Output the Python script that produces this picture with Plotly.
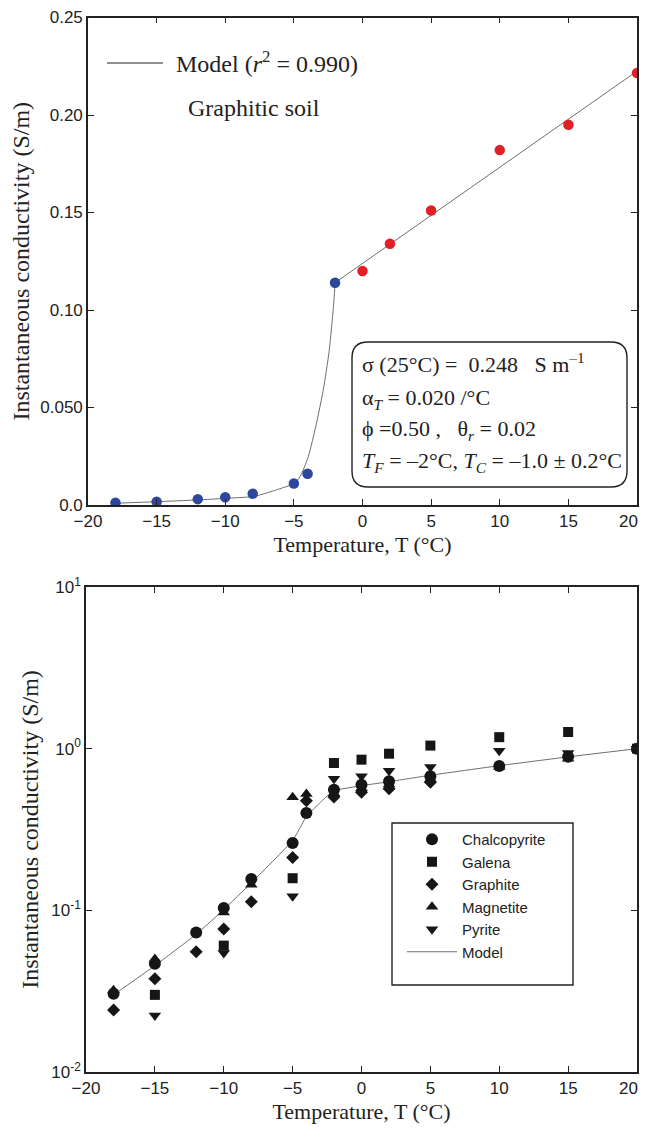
import plotly.graph_objects as go

# ---------------- Top panel data (graphitic soil) ----------------
top_T_frozen = [-18, -15, -12, -10, -8, -5, -4, -2]
top_sigma_frozen = [0.0012, 0.0017, 0.0030, 0.0040, 0.0058, 0.0110, 0.0160, 0.1140]
top_T_thawed = [0, 2, 5, 10, 15, 20]
top_sigma_thawed = [0.120, 0.134, 0.151, 0.182, 0.195, 0.2215]
# model curve: freezing branch and linear thawed branch
top_model_T_frozen = [-18, -15, -12, -10, -8, -7.5, -6.3, -5, -4.55, -3.95, -3.35, -2.86, -2.42, -2.08, -2]
top_model_sigma_frozen = [0.0009, 0.0017, 0.0026, 0.0034, 0.0043, 0.0051, 0.0077, 0.0110, 0.0145,
                          0.0248, 0.0420, 0.0590, 0.0795, 0.1050, 0.1140]
top_model_T_thawed = [-2, 20]
top_model_sigma_thawed = [0.1140, 0.2225]
top_yticks = [0, 0.05, 0.10, 0.15, 0.20, 0.25]
top_yticktext = ["0.0", "0.050", "0.10", "0.15", "0.20", "0.25"]
x_ticks = [-20, -15, -10, -5, 0, 5, 10, 15, 20]
x_ticktext = ["\u221220", "\u221215", "\u221210", "\u22125", "0", "5", "10", "15", "20"]

# ---------------- Bottom panel data (minerals) ----------------
chalco_T = [-18, -15, -12, -10, -8, -5, -4, -2, 0, 2, 5, 10, 15, 20]
chalco_s = [0.0305, 0.0468, 0.073, 0.1035, 0.156, 0.261, 0.40, 0.558, 0.599, 0.628, 0.675, 0.780, 0.890, 1.0]
galena_T = [-15, -10, -5, -2, 0, 2, 5, 10, 15, 20]
galena_s = [0.030, 0.0605, 0.158, 0.815, 0.855, 0.931, 1.045, 1.178, 1.268, 1.0]
graphite_T = [-18, -15, -12, -10, -8, -5, -4, -2, 0, 2, 5]
graphite_s = [0.0242, 0.0377, 0.0555, 0.0767, 0.113, 0.212, 0.477, 0.502, 0.537, 0.566, 0.619]
magnetite_T = [-18, -15, -10, -8, -5, -4, -2, 0, 2, 5, 10, 15, 20]
magnetite_s = [0.032, 0.050, 0.097, 0.144, 0.50, 0.525, 0.53, 0.57, 0.60, 0.65, 0.77, 0.867, 1.0]
pyrite_T = [-15, -10, -5, -2, 0, 2, 5, 10, 15, 20]
pyrite_s = [0.0224, 0.0545, 0.122, 0.652, 0.675, 0.731, 0.770, 0.970, 0.940, 1.0]
bot_model_T = [-18, -15, -12, -10, -8, -5, -4, -3, -2, 0, 2, 5, 10, 15, 20]
bot_model_s = [0.030, 0.0455, 0.071, 0.101, 0.148, 0.270, 0.380, 0.465, 0.550, 0.590, 0.625,
               0.685, 0.785, 0.890, 1.0]
bot_yticks = [0.01, 0.1, 1, 10]
bot_yticktext = ["10<sup>-2</sup>", "10<sup>-1</sup>", "10<sup>0</sup>", "10<sup>1</sup>"]

BLUE = "#2d479c"
RED = "#e21f26"
INK = "#161616"
TXT = "#222"
SANS = "Liberation Sans, Arial, sans-serif"
SERIF = "Liberation Serif, Times New Roman, serif"

# the page body adds an 8 px margin; size the figure so the page is exactly 649x1133
OFF = 8
W, H = 649 - OFF, 1133 - 2 * OFF
ML, MR, MT = 86 - OFF, 12, 17 - OFF
MB = H - (1072 - OFF)
PW, PH = W - ML - MR, H - MT - MB

# the last tick label sits at the very page edge: draw it right-aligned as text instead
x_ticklabels = x_ticktext[:-1] + [""]


def px(x):  # page pixel (reference) -> paper x
    return (x - OFF - ML) / PW


def py(y):  # page pixel (reference) -> paper y
    return (H - MB - (y - OFF)) / PH


fig = go.Figure()

# top panel traces
fig.add_trace(go.Scatter(x=top_model_T_frozen, y=top_model_sigma_frozen, mode="lines",
                         line=dict(color="#6e6e6e", width=1, shape="spline", smoothing=0.6),
                         showlegend=False, xaxis="x", yaxis="y"))
fig.add_trace(go.Scatter(x=top_model_T_thawed, y=top_model_sigma_thawed, mode="lines",
                         line=dict(color="#6e6e6e", width=1),
                         showlegend=False, xaxis="x", yaxis="y"))
fig.add_trace(go.Scatter(x=top_T_frozen, y=top_sigma_frozen, mode="markers",
                         marker=dict(color=BLUE, size=10.5), showlegend=False, xaxis="x", yaxis="y"))
fig.add_trace(go.Scatter(x=top_T_thawed, y=top_sigma_thawed, mode="markers",
                         marker=dict(color=RED, size=10.5), showlegend=False, xaxis="x", yaxis="y"))

# bottom panel traces
fig.add_trace(go.Scatter(x=bot_model_T, y=bot_model_s, mode="lines", name="Model",
                         line=dict(color="#6e6e6e", width=1, shape="spline", smoothing=0.3),
                         legendrank=6, xaxis="x2", yaxis="y2"))
fig.add_trace(go.Scatter(x=magnetite_T, y=magnetite_s, mode="markers", name="Magnetite",
                         marker=dict(symbol="triangle-up", color=INK, size=11), legendrank=4,
                         xaxis="x2", yaxis="y2"))
fig.add_trace(go.Scatter(x=graphite_T, y=graphite_s, mode="markers", name="Graphite",
                         marker=dict(symbol="diamond", color=INK, size=10), legendrank=3,
                         xaxis="x2", yaxis="y2"))
fig.add_trace(go.Scatter(x=pyrite_T, y=pyrite_s, mode="markers", name="Pyrite",
                         marker=dict(symbol="triangle-down", color=INK, size=11), legendrank=5,
                         xaxis="x2", yaxis="y2"))
fig.add_trace(go.Scatter(x=chalco_T, y=chalco_s, mode="markers", name="Chalcopyrite",
                         marker=dict(symbol="circle", color=INK, size=12), legendrank=1,
                         xaxis="x2", yaxis="y2"))
fig.add_trace(go.Scatter(x=galena_T, y=galena_s, mode="markers", name="Galena",
                         marker=dict(symbol="square", color=INK, size=10), legendrank=2,
                         xaxis="x2", yaxis="y2"))

tick_font = dict(family=SANS, size=17, color=TXT)
axis_common = dict(showline=True, linecolor=TXT, linewidth=1.6, mirror="ticks",
                   ticks="inside", ticklen=6, tickwidth=1.3, tickcolor=TXT,
                   showgrid=False, zeroline=False, automargin=False, tickfont=tick_font)
xtitle_font = dict(family=SERIF, size=22, color=TXT)
ytitle_font = dict(family=SERIF, size=24, color=TXT)

top_dom_y = [py(505), py(17.5)]
bot_dom_y = [py(1072), py(587)]

fig.update_layout(
    width=W, height=H, margin=dict(l=ML, r=MR, t=MT, b=MB, autoexpand=False),
    paper_bgcolor="white", plot_bgcolor="white",
    xaxis=dict(axis_common, domain=[px(88), 1], range=[-20, 20], tickvals=x_ticks,
               ticktext=x_ticklabels, anchor="y",
               title=dict(text="Temperature, T (°C)", font=xtitle_font, standoff=6)),
    yaxis=dict(axis_common, domain=top_dom_y, range=[0, 0.25], tickvals=top_yticks,
               ticktext=top_yticktext, anchor="x",
               title=dict(text="Instantaneous conductivity (S/m)", font=ytitle_font, standoff=6)),
    xaxis2=dict(axis_common, domain=[0, 1], range=[-20, 20], tickvals=x_ticks,
                ticktext=x_ticklabels, anchor="y2",
                title=dict(text="Temperature, T (°C)", font=xtitle_font, standoff=6)),
    yaxis2=dict(axis_common, domain=bot_dom_y, type="log", range=[-2, 1], tickvals=bot_yticks,
                ticktext=bot_yticktext, anchor="x2",
                title=dict(text="Instantaneous conductivity (S/m)", font=ytitle_font, standoff=6)),
    legend=dict(x=px(402), y=py(823), xanchor="left", yanchor="top",
                bgcolor="rgba(0,0,0,0)", borderwidth=0, itemwidth=50,
                font=dict(family=SANS, size=15, color=TXT), traceorder="normal"),
    showlegend=True,
)

# last x tick label of each panel, kept inside the visible page
for label_y in (521, 1088):
    fig.add_annotation(xref="paper", yref="paper", x=px(640), y=py(label_y), xanchor="right",
                       yanchor="middle", showarrow=False, text=x_ticktext[-1], font=tick_font)

# legend box for bottom panel
fig.add_shape(type="rect", xref="paper", yref="paper",
              x0=px(392), x1=px(573), y0=py(985), y1=py(823),
              line=dict(color=TXT, width=1.4), fillcolor="rgba(0,0,0,0)")

# top panel key line and texts
fig.add_shape(type="line", xref="paper", yref="paper",
              x0=px(107), x1=px(163), y0=py(63), y1=py(63),
              line=dict(color=TXT, width=1))
fig.add_annotation(xref="paper", yref="paper", x=px(174), y=py(62), xanchor="left",
                   yanchor="middle", showarrow=False,
                   text="Model (<i>r</i><sup>2</sup> = 0.990)",
                   font=dict(family=SERIF, size=24, color=TXT))
fig.add_annotation(xref="paper", yref="paper", x=px(186), y=py(108), xanchor="left",
                   yanchor="middle", showarrow=False, text="Graphitic soil",
                   font=dict(family=SERIF, size=24, color=TXT))

# rounded parameter box
bx0, bx1, by0, by1 = px(352), px(627), py(487), py(342)
rx, ry = 16 / PW, 16 / PH
path = (f"M {bx0 + rx},{by1} L {bx1 - rx},{by1} Q {bx1},{by1} {bx1},{by1 - ry} "
        f"L {bx1},{by0 + ry} Q {bx1},{by0} {bx1 - rx},{by0} "
        f"L {bx0 + rx},{by0} Q {bx0},{by0} {bx0},{by0 + ry} "
        f"L {bx0},{by1 - ry} Q {bx0},{by1} {bx0 + rx},{by1} Z")
fig.add_shape(type="path", xref="paper", yref="paper", path=path,
              line=dict(color=TXT, width=1.4), fillcolor="white")

nb = "\u00a0"
box_lines = [
    (363, f"σ{nb}(25°C){nb}={nb}{nb}0.248{nb}{nb}{nb}S{nb}m<sup>–1</sup>"),
    (399, f"α<sub><i>T</i></sub>{nb}={nb}0.020{nb}/°C"),
    (430, f"ϕ{nb}=0.50{nb},{nb}{nb}{nb}θ<sub><i>r</i></sub>{nb}={nb}0.02"),
    (462, f"<i>T</i><sub><i>F</i></sub>{nb}={nb}–2°C,{nb}<i>T</i><sub><i>C</i></sub>{nb}={nb}–1.0{nb}±{nb}0.2°C"),
]
for yy, txt in box_lines:
    fig.add_annotation(xref="paper", yref="paper", x=px(360), y=py(yy), xanchor="left",
                       yanchor="middle", showarrow=False, text=txt,
                       font=dict(family=SERIF, size=22, color=TXT))

fig.write_html("out.html")
